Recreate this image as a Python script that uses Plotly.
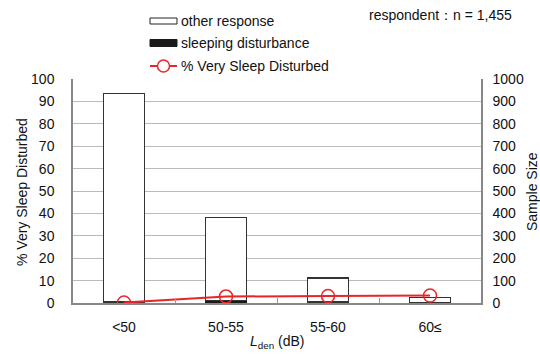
import plotly.graph_objects as go

categories = ["<50", "50-55", "55-60", "60≤"]
sleeping = [5, 12, 4, 1]
other = [930, 371, 108, 24]
pct_very_disturbed = [0.2, 2.9, 3.1, 3.3]
left_ticks = list(range(0, 101, 10))
right_ticks = list(range(0, 1001, 100))

W, H = 540, 354
L, R, T, B = 73, 59, 79, 51
PW, PH = W - L - R, H - T - B

def px(x):
    return (x - L) / PW

def py(y):
    return (H - B - y) / PH

font = dict(family="Liberation Sans, Arial, sans-serif", size=14, color="#111")

fig = go.Figure()
fig.add_trace(go.Bar(x=categories, y=sleeping, yaxis="y", marker=dict(color="#1a1a1a", line=dict(color="#1a1a1a", width=1)),
                     width=0.4, name="sleeping disturbance", showlegend=False))
fig.add_trace(go.Bar(x=categories, y=other, yaxis="y", marker=dict(color="white", line=dict(color="#333", width=1.3)),
                     width=0.4, name="other response", showlegend=False))
fig.add_trace(go.Scatter(x=categories, y=pct_very_disturbed, yaxis="y2", mode="lines+markers",
                         line=dict(color="#e8262a", width=2),
                         marker=dict(symbol="circle-open", size=13, color="#e8262a", line=dict(width=1.5)),
                         name="% Very Sleep Disturbed", showlegend=False))

fig.update_layout(
    width=W, height=H, margin=dict(l=L, r=R, t=T, b=B, autoexpand=False),
    paper_bgcolor="white", plot_bgcolor="white", barmode="stack",
    font=font,
    xaxis=dict(type="category", showline=True, linecolor="#888", linewidth=1.5, mirror=False,
               ticks="inside", tickson="boundaries", ticklen=5, tickcolor="#999",
               ticklabelstandoff=10, showgrid=False, automargin=False),
    yaxis=dict(range=[0, 1000], tickvals=right_ticks, side="right", showline=True,
               linecolor="#888", linewidth=1.5, showgrid=True, gridcolor="#bbbbbb", gridwidth=1,
               ticks="", ticklabelstandoff=7, zeroline=False, automargin=False),
    yaxis2=dict(range=[0, 100], tickvals=left_ticks, overlaying="y", side="left", showline=True,
                linecolor="#888", linewidth=1.5, showgrid=False, ticks="", ticklabelstandoff=14,
                zeroline=False, automargin=False),
)

# custom legend
shapes = [
    dict(type="rect", xref="paper", yref="paper", x0=px(150), x1=px(177), y0=py(24), y1=py(18),
         line=dict(color="#222", width=1), fillcolor="white"),
    dict(type="rect", xref="paper", yref="paper", x0=px(150), x1=px(177), y0=py(46.5), y1=py(39.5),
         line=dict(color="#1a1a1a", width=1), fillcolor="#1a1a1a"),
    dict(type="line", xref="paper", yref="paper", x0=px(150), x1=px(177), y0=py(66), y1=py(66),
         line=dict(color="#e8262a", width=2)),
    dict(type="circle", xref="paper", yref="paper", x0=px(157.5), x1=px(169.5), y0=py(72), y1=py(60),
         line=dict(color="#e8262a", width=1.5), fillcolor="white"),
]
fig.update_layout(shapes=shapes)
for txt, yy in [("other response", 21), ("sleeping disturbance", 43), ("% Very Sleep Disturbed", 66)]:
    fig.add_annotation(text=txt, xref="paper", yref="paper", x=px(179), y=py(yy), xanchor="left",
                       yanchor="middle", showarrow=False, font=dict(size=14))
fig.add_annotation(text="respondent：n = 1,455", xref="paper", yref="paper", x=px(514), y=py(15),
                   xanchor="right", yanchor="middle", showarrow=False, font=dict(size=14))

# axis titles
fig.add_annotation(text="% Very Sleep Disturbed", xref="paper", yref="paper", x=px(22), y=py(192),
                   xanchor="center", yanchor="middle", textangle=-90, showarrow=False, font=dict(size=14))
fig.add_annotation(text="Sample Size", xref="paper", yref="paper", x=px(532), y=py(192),
                   xanchor="center", yanchor="middle", textangle=-90, showarrow=False, font=dict(size=14))
fig.add_annotation(text="<i>L</i><sub>den</sub> (dB)", xref="paper", yref="paper", x=px(277), y=py(342),
                   xanchor="center", yanchor="middle", showarrow=False, font=dict(size=14))

fig.write_html("out.html")
